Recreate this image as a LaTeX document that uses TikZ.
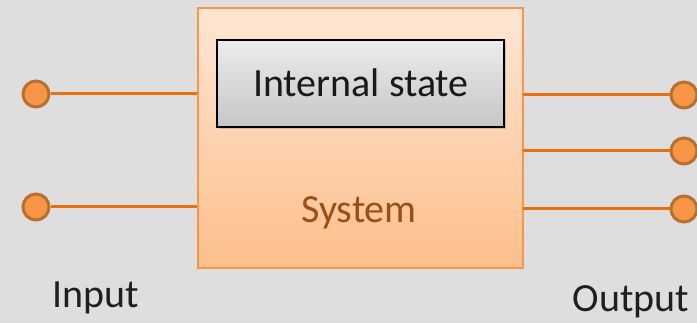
\documentclass[tikz,border=0pt]{standalone}
\usepackage{fontspec}
\setmainfont{Carlito}
\usetikzlibrary{shadows}
\definecolor{bg}{HTML}{DEDEDE}
\definecolor{sysedge}{HTML}{F79646}
\definecolor{systop}{HTML}{FEE6D4}
\definecolor{sysbot}{HTML}{FDBF8C}
\definecolor{wire}{HTML}{E8700F}
\definecolor{portfill}{HTML}{F79646}
\definecolor{portedge}{HTML}{B8702F}
\definecolor{systext}{HTML}{9C4F14}
\tikzset{
  sysbox/.style={draw=sysedge, line width=2pt, top color=systop, bottom color=sysbot,
    minimum width=325pt, minimum height=260pt, inner sep=0pt,
    drop shadow={shadow xshift=1.5pt, shadow yshift=-1.5pt, opacity=0.25}},
  statebox/.style={draw=black, line width=1.8pt, top color=gray!15, bottom color=gray!45,
    minimum width=287pt, minimum height=87pt, inner sep=0pt,
    drop shadow={shadow xshift=2pt, shadow yshift=-2pt, opacity=0.35}},
  port/.style={circle, draw=portedge, fill=portfill, line width=3pt, minimum size=26pt, inner sep=0pt},
  wireline/.style={draw=wire, line width=3pt},
  big/.style={font=\fontsize{40}{46}\selectfont, anchor=base, inner sep=0pt},
  lbl/.style={big, text=black!88}
}
\begin{document}
\begin{tikzpicture}[x=1pt,y=-1pt]
\useasboundingbox[fill=bg] (0,0) rectangle (697,323);
\node[sysbox] (sys) at (360,138) {};
\node[statebox] (state) at (360.5,83.5) {};
\node[big, text=black!90] (statetxt) at (361,97) {Internal state};
\node[big, text=systext] (systxt) at (359,223) {System};
\node[port] (in1) at (36,94) {};
\node[port] (in2) at (36,207) {};
\node[port] (out1) at (684,95) {};
\node[port] (out2) at (684,151) {};
\node[port] (out3) at (684,209) {};
\coordinate (a1) at (197,94);
\coordinate (a2) at (197,207);
\coordinate (b1) at (523,95);
\coordinate (b2) at (523,151);
\coordinate (b3) at (523,209);
\path[wireline] (in1) -- (a1);
\path[wireline] (in2) -- (a2);
\path[wireline] (b1) -- (out1);
\path[wireline] (b2) -- (out2);
\path[wireline] (b3) -- (out3);
\node[lbl] (input) at (95.5,308) {Input};
\node[lbl] (output) at (631,312) {Output};
\end{tikzpicture}
\end{document}
